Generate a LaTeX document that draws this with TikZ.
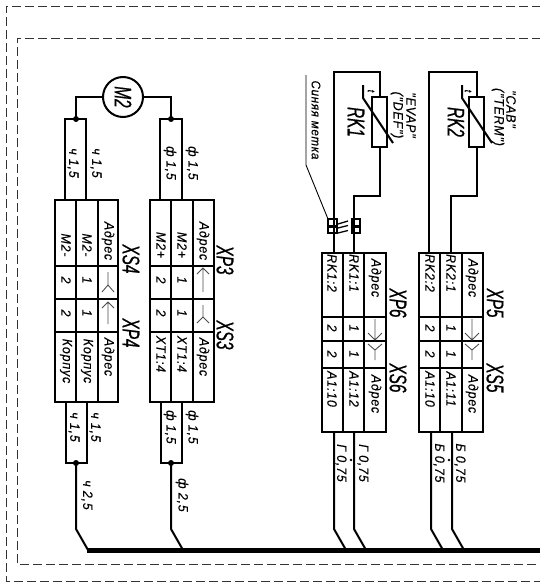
\documentclass[tikz,border=0pt]{standalone}
\usepackage{fontspec}
\usepackage{tikz,xcolor}
\newfontfamily\gostfont[FakeStretch=0.92,FakeBold=0.25,LetterSpace=6]{Liberation Sans}
\newfontfamily\gostbig[FakeStretch=0.64,FakeBold=0.6]{Liberation Sans}
\usetikzlibrary{positioning}
\tikzstyle{frame} = [draw=black!80,line width=1pt,dash pattern=on 9pt off 4pt]
\tikzstyle{wire} = [line width=2pt]
\tikzstyle{cell} = [line width=2.2pt]
\tikzstyle{pin} = [line width=0.9pt,black!70]
\tikzstyle{lbl} = [rotate=-90,inner sep=0pt,font=\gostfont\itshape\fontsize{13.5}{13.5}\selectfont]
\tikzstyle{tag} = [rotate=-90,inner sep=0pt,font=\gostbig\itshape\fontsize{24}{24}\selectfont]
\tikzstyle{table} = [draw,line width=2.2pt,inner sep=0pt,outer sep=0pt]

\begin{document}
\begin{tikzpicture}[x=1pt,y=-1pt]
    \useasboundingbox (0,0) rectangle (540,584);
    % frames
    \coordinate (fa1) at (541,6);
    \coordinate (fa2) at (6,6);
    \coordinate (fa3) at (6,581);
    \coordinate (fa4) at (541,581);
    \coordinate (fb1) at (541,38);
    \coordinate (fb2) at (17,38);
    \coordinate (fb3) at (17,564);
    \coordinate (fb4) at (541,564);
    \draw[frame] (fa1) -- (fa2) -- (fa3) -- (fa4);
    \draw[frame] (fb1) -- (fb2) -- (fb3) -- (fb4);

    % create the nodes
    \node (m2)[draw,circle,line width=2pt,minimum size=40pt,inner sep=0pt] at (123,97) {};
    \node (m2txt)[tag] at (m2) {M2};
    \node (tabxs4)[table,minimum width=63pt,minimum height=202pt] at (86.5,301) {};
    \node (tabxp3)[table,minimum width=64pt,minimum height=202pt] at (182,301) {};
    \node (tabxp6)[table,minimum width=64pt,minimum height=179pt] at (354,342.5) {};
    \node (tabxp5)[table,minimum width=64pt,minimum height=179pt] at (451,342.5) {};
    \node (res1)[draw,line width=2pt,minimum width=15pt,minimum height=50pt,inner sep=0pt] at (379.5,122) {};
    \node (res2)[draw,line width=2pt,minimum width=15pt,minimum height=50pt,inner sep=0pt] at (476.5,122) {};

    % grid of the tables
    \draw[cell] (55,266) -- (118,266) (55,299) -- (118,299) (55,332) -- (118,332) (76,200) -- (76,402) (98,200) -- (98,402);
    \draw[cell] (150,266) -- (214,266) (150,299) -- (214,299) (150,332) -- (214,332) (171,200) -- (171,402) (193,200) -- (193,402);
    \draw[cell] (322,317) -- (386,317) (322,341) -- (386,341) (322,368) -- (386,368) (343,253) -- (343,432) (364,253) -- (364,432);
    \draw[cell] (419,317) -- (483,317) (419,341) -- (483,341) (419,368) -- (483,368) (440,253) -- (440,432) (462,253) -- (462,432);

    % connect the nodes
    \coordinate (ja) at (76,119);
    \coordinate (jb) at (171,119);
    \coordinate (jc) at (76,463);
    \coordinate (jd) at (171,463);
    \coordinate (ra1) at (65,200);
    \coordinate (ra2) at (86,200);
    \coordinate (rb1) at (160,200);
    \coordinate (rb2) at (182,200);
    \coordinate (rc1) at (66,402);
    \coordinate (rc2) at (87,402);
    \coordinate (rd1) at (161,402);
    \coordinate (rd2) at (182,402);
    \draw[wire] (m2) -| (ja);
    \draw[wire] (m2) -| (jb);
    \draw[wire] (ra1) |- (ja) -| (ra2);
    \draw[wire] (rb1) |- (jb) -| (rb2);
    \draw[wire] (rc1) |- (jc) -| (rc2);
    \draw[wire] (rd1) |- (jd) -| (rd2);
    \fill (ja) circle (3pt);
    \fill (jb) circle (3pt);
    \fill (jc) circle (3pt);
    \fill (jd) circle (3pt);

    % bus
    \coordinate (busl) at (87,550.5);
    \coordinate (busr) at (541,550.5);
    \draw[line width=5pt] (busl) -- (busr);
    \draw[wire] (jc) -- (76,529) -- (88,550);
    \draw[wire] (jd) -- (171,529) -- (183,550);
    \draw[wire] (334,432) -- (334,529) -- (346,550);
    \draw[wire] (354,432) -- (354,529) -- (366,550);
    \draw[wire] (431,432) -- (431,529) -- (443,550);
    \draw[wire] (452,432) -- (452,529) -- (464,550);
    \fill (351,460) circle (1.3pt);
    \fill (449,460) circle (1.3pt);

    % sensors
    \draw[wire] (334,253) |- (379.5,72) -- (res1);
    \draw[wire] (res1) |- (354,196) -- (354,253);
    \draw[wire] (429,253) |- (476.5,72) -- (res2);
    \draw[wire] (res2) |- (451,196) -- (451,253);
    \draw[wire] (363,85) -- (363,98) -- (393,143);
    \draw[wire] (462,85) -- (462,98) -- (492,143);
    \node (t1)[lbl,font=\gostfont\itshape\fontsize{10}{10}\selectfont] at (371,91) {t};
    \node (t2)[lbl,font=\gostfont\itshape\fontsize{10}{10}\selectfont] at (468,91) {t};

    % blue mark
    \draw[line width=0.9pt] (306,75) -- (306,165) -- (328,219);
    \draw[line width=1.3pt] (328,219) rectangle (337,227) (328,226) rectangle (337,233);
    \draw[line width=1.3pt] (352,219) rectangle (360,227) (352,226) rectangle (360,233);
    \draw[line width=1.3pt] (338,224) -- (348,221) (338,228) -- (348,225.5) (338,233) -- (348,230.5);
    \node (mark)[lbl,font=\gostfont\itshape\fontsize{12.5}{12.5}\selectfont] at (316,120) {Синяя метка};

    % symbols of the contacts
    \draw[pin] (108,272) -- (108,285) -- (102,292) (108,285) -- (114,292);
    \draw[pin] (108,324) -- (108,302) (102,308) -- (108,302) -- (114,308);
    \draw[pin] (203,292) -- (203,268) (197,274) -- (203,268) -- (209,274);
    \draw[pin] (203,305) -- (203,317) -- (197,323) (203,317) -- (209,323);
    \draw[pin] (375,319) -- (375,340) (368,333) -- (375,340) -- (382,333);
    \draw[pin] (375,360) -- (375,350) -- (368,344) (375,350) -- (382,344);
    \draw[pin] (472,319) -- (472,340) (465,333) -- (472,340) -- (479,333);
    \draw[pin] (472,360) -- (472,350) -- (465,344) (472,350) -- (479,344);

    % texts of the tables
    \node (c1)[lbl] at (66,245) {M2-};
    \node (c2)[lbl] at (87,245) {M2-};
    \node (c3)[lbl] at (108,241) {Адрес};
    \node (c4)[lbl] at (66,280) {2};
    \node (c5)[lbl] at (87,280) {1};
    \node (c6)[lbl] at (66,313) {2};
    \node (c7)[lbl] at (87,313) {1};
    \node (c8)[lbl] at (66,361) {Корпус};
    \node (c9)[lbl] at (87,361) {Корпус};
    \node (c10)[lbl] at (108,357) {Адрес};
    \node (d1)[lbl] at (161,245) {M2+};
    \node (d2)[lbl] at (182,245) {M2+};
    \node (d3)[lbl] at (203,241) {Адрес};
    \node (d4)[lbl] at (161,280) {2};
    \node (d5)[lbl] at (182,280) {1};
    \node (d6)[lbl] at (161,313) {2};
    \node (d7)[lbl] at (182,313) {1};
    \node (d8)[lbl] at (161,354) {XT1:4};
    \node (d9)[lbl] at (182,354) {XT1:4};
    \node (d10)[lbl] at (203,357) {Адрес};
    \node (e1)[lbl] at (332,273) {RK1:2};
    \node (e2)[lbl] at (354,273) {RK1:1};
    \node (e3)[lbl] at (375,278) {Адрес};
    \node (e4)[lbl] at (332,328) {2};
    \node (e5)[lbl] at (354,328) {1};
    \node (e6)[lbl] at (332,354) {2};
    \node (e7)[lbl] at (354,354) {1};
    \node (e8)[lbl] at (332,389) {A1:10};
    \node (e9)[lbl] at (354,389) {A1:12};
    \node (e10)[lbl] at (375,394) {Адрес};
    \node (f1)[lbl] at (430,273) {RK2:2};
    \node (f2)[lbl] at (451,273) {RK2:1};
    \node (f3)[lbl] at (472,278) {Адрес};
    \node (f4)[lbl] at (430,328) {2};
    \node (f5)[lbl] at (451,328) {1};
    \node (f6)[lbl] at (430,354) {2};
    \node (f7)[lbl] at (451,354) {1};
    \node (f8)[lbl] at (430,389) {A1:10};
    \node (f9)[lbl] at (451,389) {A1:11};
    \node (f10)[lbl] at (472,394) {Адрес};

    % texts of the wires
    \node (w1)[lbl] at (73,163) {ч 1,5};
    \node (w2)[lbl] at (96,163) {ч 1,5};
    \node (w3)[lbl] at (170,163) {ф 1,5};
    \node (w4)[lbl] at (192,163) {ф 1,5};
    \node (w5)[lbl] at (74,427) {ч 1,5};
    \node (w6)[lbl] at (95,427) {ч 1,5};
    \node (w7)[lbl] at (170,427) {ф 1,5};
    \node (w8)[lbl] at (192,427) {ф 1,5};
    \node (w9)[lbl] at (87,495) {ч 2,5};
    \node (w10)[lbl] at (182,495) {ф 2,5};
    \node (w11)[lbl] at (341,463) {Г 0,75};
    \node (w12)[lbl] at (363,463) {Г 0,75};
    \node (w13)[lbl] at (439,463) {Б 0,75};
    \node (w14)[lbl] at (460,463) {Б 0,75};

    % names
    \node (xs4)[tag] at (131,259) {XS4};
    \node (xp4)[tag] at (131,333) {XP4};
    \node (xp3)[tag] at (225,260) {XP3};
    \node (xs3)[tag] at (225,335) {XS3};
    \node (xp6)[tag] at (398,303) {XP6};
    \node (xs6)[tag] at (398,378) {XS6};
    \node (xp5)[tag] at (495,303) {XP5};
    \node (xs5)[tag] at (495,378) {XS5};
    \node (rk1)[tag] at (356,122) {RK1};
    \node (rk2)[tag] at (456,122) {RK2};
    \node (evap)[lbl] at (411,115) {"EVAP"};
    \node (def)[lbl] at (397,115) {("DEF")};
    \node (cab)[lbl] at (511,109) {"CAB"};
    \node (term)[lbl] at (498,117) {("TERM")};
\end{tikzpicture}
\end{document}
